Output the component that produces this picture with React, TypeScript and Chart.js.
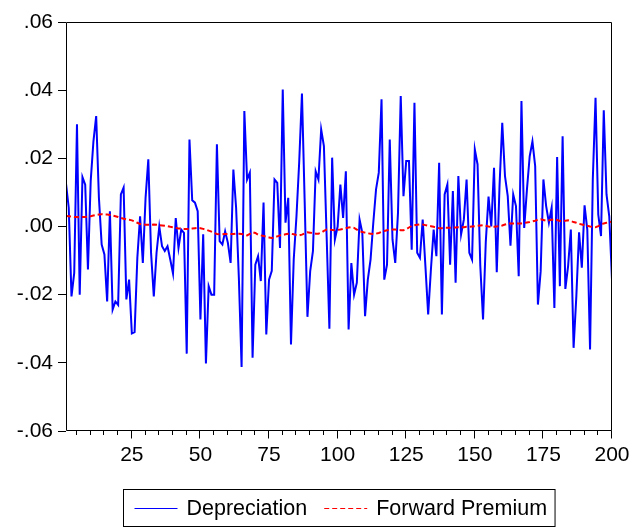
import React, { useEffect, useRef } from "react";
import { Chart, registerables } from "chart.js";

Chart.register(...registerables);

const depreciation: number[] = [
  0.0126, 0.0055, -0.0205, -0.0136, 0.03, -0.02, 0.0145, 0.0123, -0.0126, 0.0133,
  0.025, 0.0324, 0.0084, -0.0053, -0.0082, -0.022, 0.0045, -0.0244, -0.022, -0.023,
  0.0094, 0.0114, -0.0214, -0.0156, -0.0314, -0.031, -0.0092, 0.003, -0.0107, 0.0084,
  0.0197, -0.0077, -0.0205, -0.0077, 0.0, -0.0058, -0.0072, -0.0058, -0.0097, -0.0138,
  0.0025, -0.0063, -0.0009, -0.0019, -0.0373, 0.0255, 0.0077, 0.007, 0.0045, -0.0273,
  -0.0023, -0.0402, -0.0175, -0.02, -0.02, 0.0241, -0.0043, -0.0053, -0.0014, -0.0048,
  -0.0107, 0.0167, 0.0055, -0.015, -0.0412, 0.0339, 0.0138, 0.0158, -0.0385, -0.0112,
  -0.0087, -0.016, 0.007, -0.0317, -0.0156, -0.013, 0.0138, 0.0128, -0.0063, 0.0402,
  0.0011, 0.0084, -0.0346, -0.0097, 0.003, 0.019, 0.039, 0.007, -0.0265, -0.0131,
  -0.0072, 0.0162, 0.0138, 0.0285, 0.0236, -0.003, -0.03, 0.0202, -0.0038, 0.0,
  0.0123, 0.0025, 0.0162, -0.0302, -0.0107, -0.02, -0.0165, 0.002, -0.0019, -0.0263,
  -0.0156, -0.0097, 0.0011, 0.0109, 0.0158, 0.0373, -0.0156, -0.0112, 0.0255, -0.0038,
  -0.0107, 0.004, 0.0383, 0.0089, 0.0192, 0.0192, -0.0068, 0.0363, -0.0077, -0.0092,
  0.002, -0.0117, -0.0258, -0.0126, -0.0009, -0.0087, 0.0187, -0.0258, 0.0094, 0.0123,
  -0.0112, 0.0104, -0.0165, 0.0148, -0.0023, 0.002, 0.0138, -0.0077, -0.0097, 0.0226,
  0.0182, -0.0116, -0.0273, -0.0045, 0.0088, 0.0, 0.0172, -0.0134, 0.0118, 0.0304,
  0.0148, 0.0089, -0.0056, 0.0094, 0.006, -0.0146, 0.0368, -0.0004, 0.0109, 0.0206,
  0.025, 0.0177, -0.0229, -0.0131, 0.0138, 0.006, 0.0011, 0.0055, -0.0239, 0.0204,
  -0.0175, 0.0265, -0.0183, -0.0116, -0.0009, -0.0356, -0.0205, -0.0017, -0.0121, 0.0062,
  -0.001, -0.0361, 0.0138, 0.0378, 0.0035, -0.0028, 0.0341, 0.0094, 0.003, -0.0156,
];

const forwardPremium: number[] = [
  0.0031, 0.003, 0.0029, 0.0028, 0.0028, 0.0027, 0.0028, 0.0028, 0.0029, 0.003,
  0.0032, 0.0034, 0.0035, 0.0036, 0.0035, 0.0035, 0.0034, 0.0032, 0.003, 0.0028,
  0.0025, 0.0023, 0.0021, 0.002, 0.0018, 0.0015, 0.0011, 0.0007, 0.0006, 0.0005,
  0.0005, 0.0005, 0.0006, 0.0005, 0.0004, 0.0003, 0.0002, 0.0001, -0.0001, -0.0002,
  -0.0004, -0.0006, -0.0006, -0.0007, -0.0007, -0.0007, -0.0006, -0.0005, -0.0004, -0.0005,
  -0.0007, -0.0009, -0.0012, -0.0015, -0.0019, -0.0022, -0.0023, -0.0023, -0.0022, -0.0022,
  -0.0022, -0.0022, -0.0021, -0.0021, -0.0022, -0.0024, -0.0026, -0.0022, -0.0017, -0.0019,
  -0.0024, -0.0026, -0.0028, -0.003, -0.0032, -0.0034, -0.0032, -0.0029, -0.0026, -0.0025,
  -0.0023, -0.0021, -0.0021, -0.0023, -0.0025, -0.0026, -0.0024, -0.002, -0.0017, -0.0018,
  -0.002, -0.0021, -0.0021, -0.0018, -0.0013, -0.0009, -0.0009, -0.001, -0.0011, -0.001,
  -0.0009, -0.0007, -0.0005, -0.0003, -0.0002, -0.0004, -0.0009, -0.0014, -0.0016, -0.0018,
  -0.002, -0.0021, -0.0022, -0.0021, -0.0019, -0.0016, -0.0013, -0.0011, -0.001, -0.0009,
  -0.0009, -0.001, -0.0011, -0.0011, -0.0008, -0.0003, 0.0002, 0.0004, 0.0005, 0.0006,
  0.0006, 0.0004, 0.0002, 0.0001, -0.0001, -0.0003, -0.0005, -0.0005, -0.0004, -0.0004,
  -0.0004, -0.0003, -0.0003, -0.0002, -0.0002, -0.0002, -0.0001, -0.0001, 0.0, 0.0001,
  0.0002, 0.0003, 0.0004, 0.0002, 0.0, -0.0001, -0.0001, 0.0, 0.0001, 0.0003,
  0.0006, 0.0008, 0.0009, 0.0009, 0.0009, 0.0009, 0.0009, 0.001, 0.0012, 0.0013,
  0.0015, 0.0017, 0.002, 0.0021, 0.0019, 0.0017, 0.0018, 0.002, 0.0021, 0.0019,
  0.0016, 0.0016, 0.0017, 0.0018, 0.0016, 0.0013, 0.0011, 0.0008, 0.0006, 0.0004,
  0.0002, 0.0, -0.0001, -0.0002, 0.0001, 0.0006, 0.0009, 0.0011, 0.0013, 0.0014,
];

const observations: number[] = depreciation.map((_, i) => i + 1);
const xTickLabels: number[] = [25, 50, 75, 100, 125, 150, 175, 200];
const xMinorStep = 5;
const yTickValues: number[] = [-0.06, -0.04, -0.02, 0, 0.02, 0.04, 0.06];
const seriesNames: string[] = ["Depreciation", "Forward Premium"];

const FONT = '"Liberation Sans", Arial, Helvetica, sans-serif';

const fmtY = (v: number) => {
  if (Math.abs(v) < 1e-9) return ".00";
  const s = v.toFixed(2);
  return s.replace("0.", ".");
};

const framePlugin = {
  id: "frameTicks",
  afterDraw(chart: any) {
    const { ctx, chartArea: a } = chart;
    const x = chart.scales.x;
    ctx.save();
    ctx.strokeStyle = "#000";
    ctx.lineWidth = 1;
    const l = Math.round(a.left) + 0.5;
    const t = Math.round(a.top) + 0.5;
    const r = Math.round(a.right) - 0.5;
    const b = Math.round(a.bottom) - 0.5;
    ctx.beginPath();
    ctx.rect(l, t, r - l, b - t);
    ctx.stroke();
    ctx.beginPath();
    for (let v = xMinorStep; v <= 200; v += xMinorStep) {
      const px = Math.round(x.getPixelForValue(v)) - 0.5;
      const major = xTickLabels.includes(v);
      ctx.moveTo(px, b);
      ctx.lineTo(px, b + (major ? 8 : 4.5));
    }
    ctx.stroke();
    ctx.restore();
  },
};

const legendPlugin = {
  id: "boxLegend",
  afterDraw(chart: any) {
    const { ctx, chartArea: a } = chart;
    ctx.save();
    ctx.font = `21.5px ${FONT}`;
    ctx.textBaseline = "middle";
    const padL = 11;
    const lineW = 43;
    const gap1 = 9;
    const gap2 = 17;
    const padR = 8;
    const items = chart.data.datasets.map((ds: any) => ({
      label: ds.label as string,
      color: ds.borderColor as string,
      dash: (ds.borderDash || []) as number[],
      w: ctx.measureText(ds.label).width,
    }));
    let total = padL + padR;
    items.forEach((it: any, i: number) => {
      total += lineW + gap1 + it.w + (i > 0 ? gap2 : 0);
    });
    const boxH = 37;
    const top = Math.round(a.bottom + 58) + 0.5;
    const left = Math.round((a.left + a.right) / 2 - total / 2) + 0.5;
    ctx.strokeStyle = "#000";
    ctx.lineWidth = 1;
    ctx.strokeRect(left, top, total, boxH);
    const cy = top + boxH / 2;
    let cx = left + padL;
    items.forEach((it: any, i: number) => {
      if (i > 0) cx += gap2;
      ctx.save();
      ctx.strokeStyle = it.color;
      ctx.lineWidth = 1;
      ctx.setLineDash(it.dash.length ? [5, 3] : []);
      ctx.beginPath();
      ctx.moveTo(cx, Math.round(cy) + 0.5);
      ctx.lineTo(cx + lineW, Math.round(cy) + 0.5);
      ctx.stroke();
      ctx.restore();
      cx += lineW + gap1;
      ctx.fillStyle = "#000";
      ctx.textAlign = "left";
      ctx.fillText(it.label, cx, cy + 1);
      cx += it.w;
    });
    ctx.restore();
  },
};

export default function App() {
  const canvasRef = useRef<HTMLCanvasElement | null>(null);

  useEffect(() => {
    if (!canvasRef.current) return;
    Chart.defaults.font.family = FONT;
    const chart = new Chart(canvasRef.current, {
      type: "line",
      data: {
        datasets: [
          {
            label: seriesNames[0],
            data: depreciation.map((v, i) => ({ x: observations[i], y: v })),
            borderColor: "#0000FF",
            backgroundColor: "#0000FF",
            borderWidth: 2,
            pointRadius: 0,
            tension: 0,
            fill: false,
            order: 1,
          },
          {
            label: seriesNames[1],
            data: forwardPremium.map((v, i) => ({ x: observations[i], y: v })),
            borderColor: "#FF0000",
            backgroundColor: "#FF0000",
            borderWidth: 2,
            borderDash: [5, 3],
            pointRadius: 0,
            tension: 0,
            fill: false,
            order: 0,
          },
        ],
      },
      options: {
        animation: false,
        responsive: true,
        maintainAspectRatio: false,
        layout: { padding: { left: 0, right: 19, top: 22, bottom: 68 } },
        plugins: {
          legend: { display: false },
          tooltip: { enabled: false },
        },
        scales: {
          x: {
            type: "linear",
            min: 1,
            max: 200,
            grid: { display: false, drawTicks: false },
            border: { display: false },
            afterBuildTicks: (scale: any) => {
              scale.ticks = xTickLabels.map((v) => ({ value: v }));
            },
            afterFit: (scale: any) => {
              scale.height = 30;
              scale.paddingLeft = 0;
              scale.paddingRight = 0;
            },
            ticks: {
              autoSkip: false,
              maxRotation: 0,
              padding: 12,
              color: "#000",
              font: { size: 21, family: FONT },
              callback: (v: any) => String(v),
            },
          },
          y: {
            type: "linear",
            min: -0.06,
            max: 0.06,
            grid: {
              drawOnChartArea: false,
              drawTicks: true,
              tickLength: 8,
              color: "#000",
              lineWidth: 1,
            },
            border: { display: false },
            afterBuildTicks: (scale: any) => {
              scale.ticks = yTickValues.map((v) => ({ value: v }));
            },
            afterFit: (scale: any) => {
              scale.width = 66;
            },
            ticks: {
              padding: 5,
              color: "#000",
              font: { size: 21, family: FONT },
              callback: (v: any) => fmtY(Number(v)),
            },
          },
        },
      },
      plugins: [framePlugin, legendPlugin],
    });
    return () => chart.destroy();
  }, []);

  return (
    <div
      style={{
        position: "absolute",
        left: 0,
        top: 0,
        width: 631,
        height: 529,
        background: "#fff",
      }}
    >
      <canvas ref={canvasRef} />
    </div>
  );
}
